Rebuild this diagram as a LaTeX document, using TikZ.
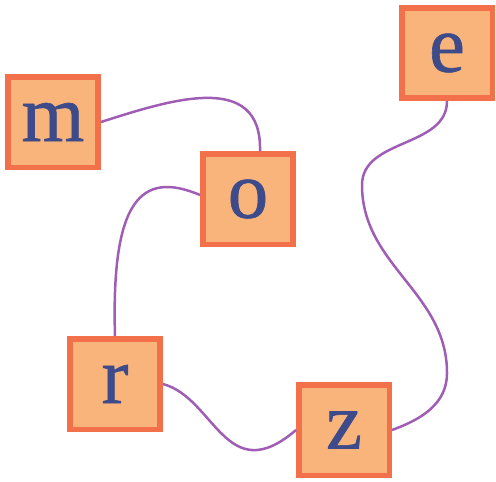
\documentclass[tikz,border=0pt]{standalone}
\usepackage{fontspec}
\setmainfont{Liberation Serif}
\newfontfamily\boxletters[FakeBold=0.8]{Liberation Serif}
\usepackage{tikz}
\usetikzlibrary{calc}

\definecolor{boxfill}{HTML}{F8B47A}
\definecolor{boxline}{HTML}{F2704A}
\definecolor{letter}{HTML}{3D4B8A}
\definecolor{wire}{HTML}{A05DB5}

\begin{document}
\begin{tikzpicture}[x=0.02cm, y=-0.02cm,
	letterbox/.style={draw=boxline, fill=boxfill, line width=0.11cm, minimum size=1.81cm, inner sep=0pt, text=letter, font=\boxletters\fontsize{46}{46}\selectfont},
	wire/.style={draw=wire, line width=0.05cm}]
	        \useasboundingbox (0,0) rectangle (496,481);
		    % boxes
		    \node[letterbox] (m) at (53,122) {m};
		    \node[letterbox] (o) at (248,199) {o};
		    \node[letterbox] (r) at (115,384) {r};
		    \node[letterbox] (z) at (344,430) {z};
		    \node[letterbox] (e) at (447,53) {e};
		    % bends of the long wire
		    \coordinate (bendl) at (362,185);
		    \coordinate (bendr) at (447,373);
		    % wires
		    \draw[wire] (m.east) .. controls +(69,-22) and +(2,-81) .. ($(o.north)+(12,0)$);
		    \draw[wire] ($(o.west)+(0,-4)$) .. controls +(-59,-25) and +(-4,-136) .. (r.north);
		    \draw[wire] (r.east) .. controls +(52,14) and +(-70,60) .. (z.west);
		    \draw[wire] (e.south) to[out=-90,in=90] (bendl) to[out=-90,in=90] (bendr) to[out=-90,in=20] (z.east);
        \end{tikzpicture}
\end{document}
